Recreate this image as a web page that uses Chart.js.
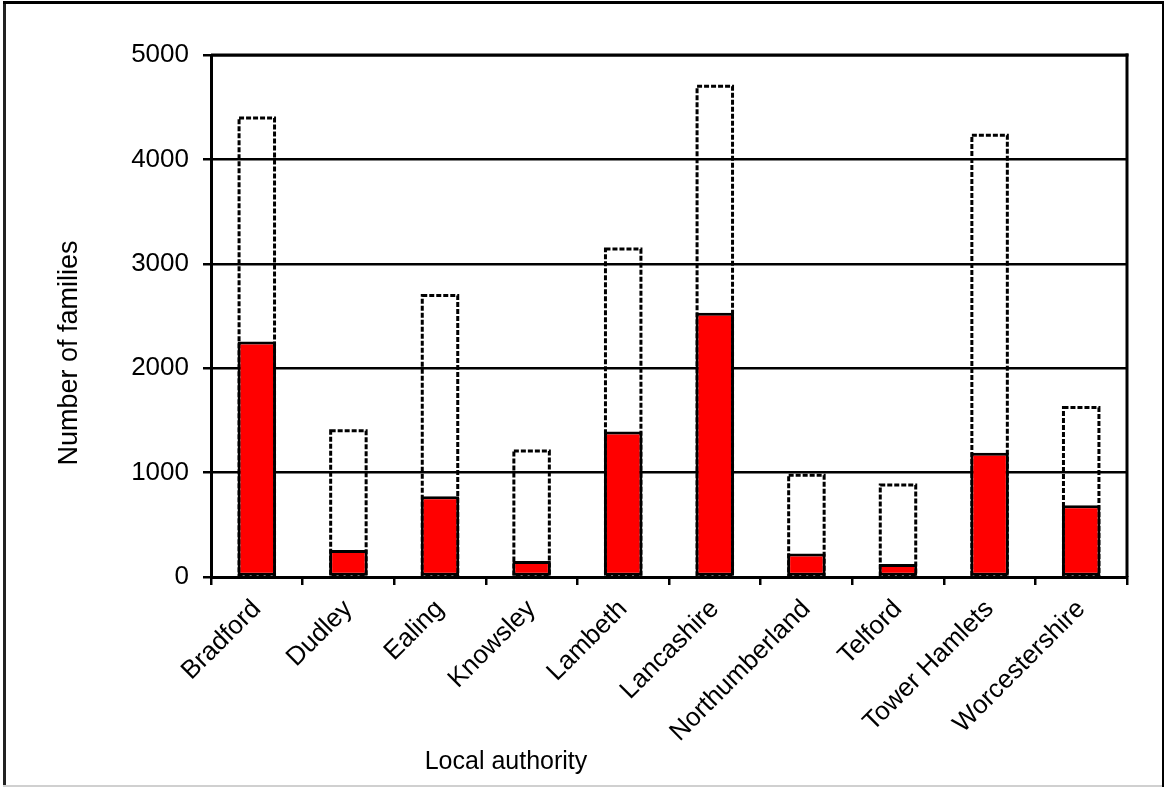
<!DOCTYPE html>
<html>
<head>
<meta charset="utf-8">
<script src="https://cdn.jsdelivr.net/npm/chart.js@4.4.1/dist/chart.umd.min.js"></script>
<style>
  html, body { margin: 0; padding: 0; background: #fff; }
  #wrap { position: relative; width: 1165px; height: 787px; }
</style>
</head>
<body>
<div id="wrap"><canvas id="chart"></canvas></div>
<script>
// data
var authorities = ["Bradford", "Dudley", "Ealing", "Knowsley", "Lambeth", "Lancashire",
                   "Northumberland", "Telford", "Tower Hamlets", "Worcestershire"];
var totalFamilies = [4410, 1415, 2710, 1222, 3155, 4715, 990, 895, 4245, 1638];
var redFamilies = [2255, 258, 774, 153, 1394, 2531, 226, 124, 1191, 688];
var yTicks = [0, 1000, 2000, 3000, 4000, 5000];
var xTitle = "Local authority";
var yTitle = "Number of families";

var FONT = "Arial, 'Liberation Sans', sans-serif";

// dashed outline for the totals, the frame and both axis titles
var extras = {
    id: 'extras',
    beforeDatasetsDraw: function(chart) {
        var ctx = chart.ctx;
        var meta = chart.getDatasetMeta(0);
        ctx.save();
        ctx.strokeStyle = '#000';
        ctx.lineWidth = 3;
        ctx.setLineDash([5, 2]);
        meta.data.forEach(function(bar) {
            var l = bar.x - bar.width / 2 + 1.5;
            ctx.strokeRect(l, bar.y + 1.5, bar.width - 3, bar.base - bar.y - 1.5);
        });
        ctx.restore();
    },
    afterDraw: function(chart) {
        var ctx = chart.ctx;
        var a = chart.chartArea;
        ctx.save();
        // plot box right/top edge
        ctx.fillStyle = '#000';
        ctx.fillRect(a.left, a.top - 1.5, a.right - a.left + 1.5, 3);
        ctx.fillRect(a.right - 1.5, a.top - 1.5, 3, a.bottom - a.top + 1.5);
        // outer frame
        ctx.fillStyle = '#222';
        ctx.fillRect(3, 1, 3, 785);
        ctx.fillStyle = '#000';
        ctx.fillRect(3, 1, 1161, 3);
        ctx.fillRect(1162, 1, 2, 786);
        ctx.fillStyle = '#d0d0d0';
        ctx.fillRect(3, 785, 1159, 2);
        // titles
        ctx.fillStyle = '#000';
        ctx.textAlign = 'center';
        ctx.textBaseline = 'middle';
        ctx.font = '25px ' + FONT;
        ctx.fillText(xTitle, 506, 762);
        ctx.translate(70, 353);
        ctx.rotate(-Math.PI / 2);
        ctx.font = '27px ' + FONT;
        ctx.fillText(yTitle, 0, 0);
        ctx.restore();
    }
};

var ctx = document.getElementById("chart").getContext("2d");
window.myBar = new Chart(ctx, {
    type: 'bar',
    data: {
        labels: authorities,
        datasets: [
        {
            label: 'Total',
            data: totalFamilies,
            backgroundColor: 'rgba(0,0,0,0)',
            borderWidth: 0,
            barPercentage: 0.42,
            categoryPercentage: 1
        },
        {
            label: 'Red',
            data: redFamilies,
            backgroundColor: '#ff0000',
            borderColor: '#000',
            borderWidth: 3,
            borderSkipped: false,
            barPercentage: 0.42,
            categoryPercentage: 1
        }]
    },
    options: {
        responsive: true,
        maintainAspectRatio: false,
        animation: false,
        devicePixelRatio: 1,
        layout: { padding: { top: 55, right: 38, left: 0, bottom: 0 } },
        plugins: {
            legend: { display: false },
            title: { display: false },
            tooltip: { enabled: false }
        },
        scales: {
            x: {
                stacked: true,
                afterFit: function(s) { s.height = 210; },
                grid: {
                    offset: true,
                    drawOnChartArea: false,
                    color: '#000',
                    lineWidth: 2.5,
                    tickLength: 8
                },
                border: { display: true, color: '#000', width: 3 },
                ticks: {
                    color: '#000',
                    font: { family: FONT, size: 26 },
                    maxRotation: 45,
                    minRotation: 45,
                    padding: 9,
                    autoSkip: false
                }
            },
            y: {
                stacked: false,
                min: 0,
                max: 5000,
                afterFit: function(s) { s.width = 211; },
                afterBuildTicks: function(s) {
                    s.ticks = yTicks.map(function(v) { return { value: v }; });
                },
                grid: {
                    color: '#000',
                    lineWidth: 2.5,
                    tickLength: 8
                },
                border: { display: true, color: '#000', width: 3 },
                ticks: {
                    color: '#000',
                    font: { family: FONT, size: 26 },
                    padding: 14,
                    callback: function(v) { return String(v); }
                }
            }
        }
    },
    plugins: [extras]
});
</script>
</body>
</html>
